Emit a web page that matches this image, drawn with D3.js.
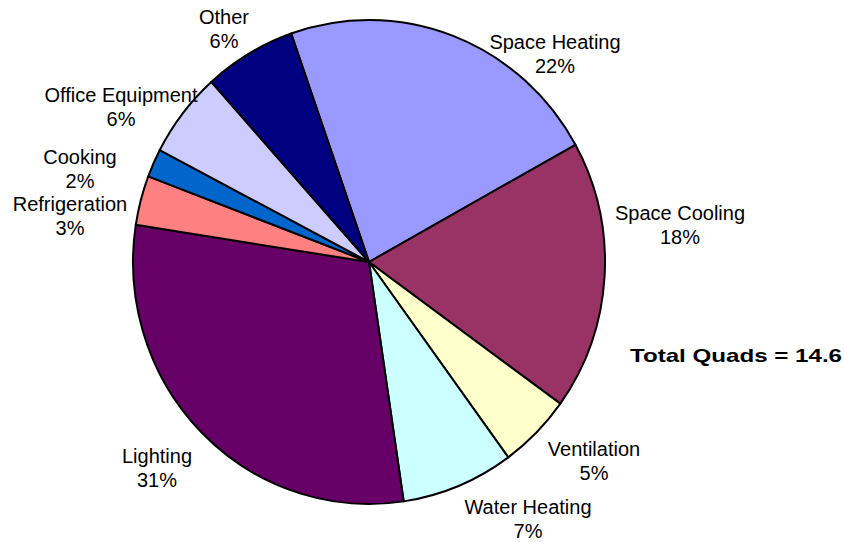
<!DOCTYPE html>
<html>
<head>
<meta charset="utf-8">
<script src="https://cdn.jsdelivr.net/npm/d3@7"></script>
<style>
  html, body { margin: 0; padding: 0; background: #ffffff; }
  svg { display: block; }
  text { font-family: "Liberation Sans", Arial, sans-serif; }
</style>
</head>
<body>
<svg id="chart" width="844" height="542"></svg>
<script>
// ---- data ----
const categories = ["Space Heating", "Space Cooling", "Ventilation", "Water Heating", "Lighting",
                    "Refrigeration", "Cooking", "Office Equipment", "Other"];
// share of total (%) as drawn in the reference
const shares = [22.3, 18.0, 5.0, 7.7, 29.8, 3.3, 1.9, 5.7, 6.3];
// percent labels as printed
const pctLabels = ["22%", "18%", "5%", "7%", "31%", "3%", "2%", "6%", "6%"];
const totalQuads = 14.6;

// ---- styles / layout (not data) ----
const colors = ["#9999FF", "#993366", "#FFFFCC", "#CCFFFF", "#660066",
                "#FF8080", "#0066CC", "#CCCCFF", "#000080"];
const cx = 369, cy = 262, rx = 236, ry = 242;
const startDeg = -19.25;
// label centre positions (annotation layout)
const labelPos = [[555, 42], [680, 213], [594, 449], [528, 507], [157, 456],
                  [70, 204], [80, 157], [121, 95], [224, 17]];

const svg = d3.select("#chart");

const pie = d3.pie().sort(null).value(d => d)
  .startAngle(startDeg * Math.PI / 180)
  .endAngle((startDeg + 360) * Math.PI / 180);
const arcs = pie(shares);
const arc = d3.arc().innerRadius(0).outerRadius(rx);

const g = svg.append("g")
  .attr("transform", `translate(${cx},${cy}) scale(1,${ry / rx})`);

g.selectAll("path").data(arcs).join("path")
  .attr("d", arc)
  .attr("fill", (d, i) => colors[i])
  .attr("stroke", "#000")
  .attr("stroke-width", 2)
  .attr("stroke-linejoin", "round")
  .attr("vector-effect", "non-scaling-stroke");

const lbl = svg.append("g");
categories.forEach((c, i) => {
  const t = lbl.append("text")
    .attr("x", labelPos[i][0]).attr("y", labelPos[i][1])
    .attr("text-anchor", "middle")
    .attr("font-size", 20)
    .attr("fill", "#000");
  t.append("tspan").attr("x", labelPos[i][0]).attr("dy", "0.35em").text(c);
  t.append("tspan").attr("x", labelPos[i][0]).attr("dy", 24).text(pctLabels[i]);
});

svg.append("text")
  .attr("x", 630).attr("y", 355)
  .attr("dy", "0.35em")
  .attr("font-size", 19)
  .attr("font-weight", "bold")
  .attr("font-family", "'DejaVu Sans', sans-serif")
  .attr("fill", "#000")
  .attr("textLength", 212)
  .attr("lengthAdjust", "spacingAndGlyphs")
  .text(`Total Quads = ${totalQuads}`);
</script>
</body>
</html>
